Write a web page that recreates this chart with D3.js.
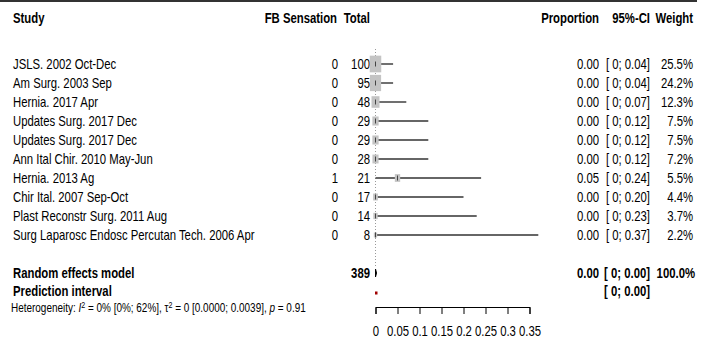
<!DOCTYPE html>
<html lang="en">
<head>
<meta charset="UTF-8">
<title>Forest plot - FB Sensation</title>
<script src="https://d3js.org/d3.v7.min.js"></script>
<style>
    body { margin: 0; background: #fff; }
    text { font-family: "Liberation Sans", Arial, sans-serif; fill: #000; }
    .axis text { font-size: 14px; }
    .axis line, .axis path { stroke: #000; stroke-width: 1; }
</style>
</head>
<body>
<div class="chart"></div>
<script>
    // data
    var studies = ["JSLS. 2002 Oct-Dec", "Am Surg. 2003 Sep", "Hernia. 2017 Apr", "Updates Surg. 2017 Dec",
        "Updates Surg. 2017 Dec", "Ann Ital Chir. 2010 May-Jun", "Hernia. 2013 Ag", "Chir Ital. 2007 Sep-Oct",
        "Plast Reconstr Surg. 2011 Aug", "Surg Laparosc Endosc Percutan Tech. 2006 Apr"];
    var events = [0, 0, 0, 0, 0, 0, 1, 0, 0, 0];
    var totals = [100, 95, 48, 29, 29, 28, 21, 17, 14, 8];
    var props = [0, 0, 0, 0, 0, 0, 0.05, 0, 0, 0];
    var lower = [0, 0, 0, 0, 0, 0, 0, 0, 0, 0];
    var upper = [0.04, 0.04, 0.07, 0.12, 0.12, 0.12, 0.24, 0.20, 0.23, 0.37];
    var weights = [25.5, 24.2, 12.3, 7.5, 7.5, 7.2, 5.5, 4.4, 3.7, 2.2];
    var xTicks = [0, 0.05, 0.1, 0.15, 0.2, 0.25, 0.3, 0.35];
    var pooled = {total: 389, est: 0, lo: 0, hi: 0, weight: 100, predLo: 0, predHi: 0};
    var hetText = {i2: "0%", i2ci: "[0%; 62%]", tau2: "0", tau2ci: "[0.0000; 0.0039]", p: "0.91"};

    var width = 709, height = 344;
    var sx = 0.81; // the picture is squeezed sideways

    var svg = d3.select('.chart').append('svg')
        .attr('width', width)
        .attr('height', height);

    var x = d3.scaleLinear().domain([0, 0.35]).range([375.5, 529.5]);
    var rowY = d3.scaleLinear().domain([0, 1]).range([64, 83]);
    var sq = d3.scaleSqrt().domain([0, d3.max(weights)]).range([0, 11.5]);
    var f2 = d3.format(".2f");
    var fci = function(v) { return v === 0 ? "0" : f2(v); };

    function label(s, px, py, anchor, bold, size, scx) {
        return svg.append('text')
            .attr('transform', 'translate(' + px + ',' + py + ') scale(' + (scx || sx) + ',1)')
            .attr('dy', '0.36em')
            .attr('text-anchor', anchor || 'start')
            .style('font-weight', bold ? 'bold' : 'normal')
            .style('font-size', (size || 14) + 'px')
            .text(s);
    }

    // top rule
    svg.append('line')
        .attr('x1', 0).attr('x2', 697).attr('y1', 1).attr('y2', 1)
        .attr('stroke', '#333').attr('stroke-width', 2);

    // headers
    var headY = 18;
    label("Study", 13, headY, 'start', true);
    label("FB Sensation", 337, headY, 'end', true);
    label("Total", 370, headY, 'end', true);
    label("Proportion", 599, headY, 'end', true);
    label("95%-CI", 650, headY, 'end', true);
    label("Weight", 693, headY, 'end', true);

    // null line
    svg.append('line')
        .attr('x1', x(0)).attr('x2', x(0))
        .attr('y1', 49).attr('y2', 267)
        .attr('stroke', '#999').attr('stroke-width', 1)
        .attr('stroke-dasharray', '1,2');

    // study rows
    studies.forEach(function(s, i) {
        var y = rowY(i);
        label(s, 13, y, 'start');
        label(events[i], 338, y, 'end');
        label(totals[i], 370, y, 'end');
        label(f2(props[i]), 599, y, 'end');
        label("[ " + fci(lower[i]) + "; " + fci(upper[i]) + "]", 650, y, 'end');
        label(weights[i].toFixed(1) + "%", 693, y, 'end');
    });

    var rows = svg.append('g').selectAll('g')
        .data(studies.map(function(s, i) { return i; }))
        .enter().append('g');

    rows.append('line')
        .attr('x1', function(i) { return x(lower[i]); })
        .attr('x2', function(i) { return x(upper[i]); })
        .attr('y1', function(i) { return rowY(i); })
        .attr('y2', function(i) { return rowY(i); })
        .attr('stroke', '#333').attr('stroke-width', 1.4);

    rows.append('rect')
        .attr('x', function(i) { return x(props[i]) - sq(weights[i]) / 2; })
        .attr('y', function(i) { return rowY(i) - sq(weights[i]) * 1.45 / 2; })
        .attr('width', function(i) { return sq(weights[i]); })
        .attr('height', function(i) { return sq(weights[i]) * 1.45; })
        .attr('fill', '#c4c4c4');

    rows.append('line')
        .attr('x1', function(i) { return x(props[i]); })
        .attr('x2', function(i) { return x(props[i]); })
        .attr('y1', function(i) { return rowY(i) - 2.5; })
        .attr('y2', function(i) { return rowY(i) + 2.5; })
        .attr('stroke', '#444').attr('stroke-width', 1);

    // pooled estimate
    var yRE = 273, yPI = yRE + 18, yHet = yRE + 35;
    label("Random effects model", 13, yRE, 'start', true);
    label(pooled.total, 370, yRE, 'end', true);
    label(f2(pooled.est), 599, yRE, 'end', true);
    label("[ " + fci(pooled.lo) + "; " + f2(pooled.hi) + "]", 650, yRE, 'end', true);
    label(pooled.weight.toFixed(1) + "%", 695, yRE, 'end', true);

    svg.append('polygon')
        .attr('points', [[x(pooled.lo), yRE], [x(pooled.est), yRE - 4], [x(pooled.hi) + 1, yRE], [x(pooled.est), yRE + 4]].join(' '))
        .attr('fill', '#000').attr('stroke', '#000').attr('stroke-width', 1);

    label("Prediction interval", 13, yPI, 'start', true);
    label("[ " + fci(pooled.predLo) + "; " + f2(pooled.predHi) + "]", 650, yPI, 'end', true);
    svg.append('rect')
        .attr('x', x(pooled.predLo) - 0.5).attr('y', yPI + 0.5)
        .attr('width', Math.max(2.5, x(pooled.predHi) - x(pooled.predLo) + 2)).attr('height', 3)
        .attr('fill', '#a00000');

    // heterogeneity line
    var het = label("", 11, yHet, 'start', false, 12, 0.83);
    het.append('tspan').text("Heterogeneity: ");
    het.append('tspan').style('font-style', 'italic').text("I");
    het.append('tspan').attr('dy', -4.5).style('font-size', '8.5px').text("2");
    het.append('tspan').attr('dy', 4.5).text(" = " + hetText.i2 + " " + hetText.i2ci + ", \u03c4");
    het.append('tspan').attr('dy', -4.5).style('font-size', '8.5px').text("2");
    het.append('tspan').attr('dy', 4.5).text(" = " + hetText.tau2 + " " + hetText.tau2ci + ", ");
    het.append('tspan').style('font-style', 'italic').text("p");
    het.append('tspan').text(" = " + hetText.p);

    // x axis
    var axis = svg.append('g')
        .attr('class', 'axis')
        .attr('transform', 'translate(0,307)')
        .call(d3.axisBottom(x)
            .tickValues(xTicks)
            .tickSizeOuter(0)
            .tickSize(7)
            .tickPadding(12)
            .tickFormat(function(d) { return String(+d.toFixed(2)); }));
    axis.selectAll('text')
        .attr('transform', 'scale(' + sx + ',1)')
        .style('font-family', '"Liberation Sans", Arial, sans-serif')
        .attr('fill', '#000');
</script>
</body>
</html>
